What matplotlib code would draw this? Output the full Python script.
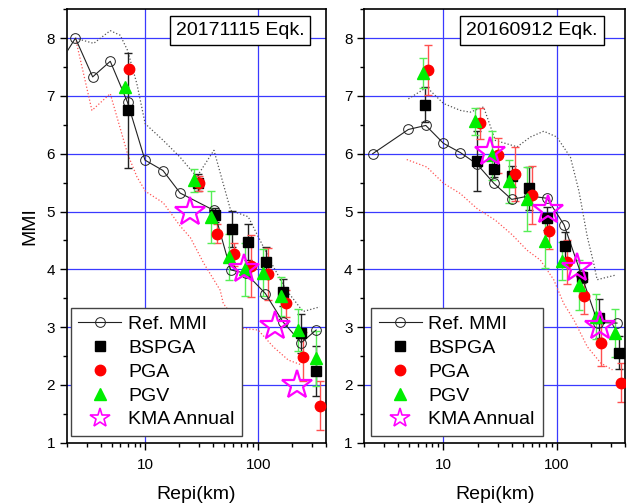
import matplotlib
matplotlib.use("Agg")
import matplotlib.pyplot as plt
from matplotlib.ticker import LogLocator, NullFormatter, MultipleLocator

plt.rcParams["font.family"] = ["Liberation Sans", "DejaVu Sans"]

# ---- 20171115 Eqk. (left) ----
ref_r_a = [1.7, 2.39, 3.40, 4.87, 6.93, 9.9, 14.3, 20.3, 40.5, 57, 78, 116, 166, 241, 327]
ref_m_a = [7.54, 8.0, 7.33, 7.60, 6.89, 5.89, 5.71, 5.32, 5.02, 3.99, 3.93, 3.58, 3.09, 2.73, 2.95]

bspga_r_a = [7.0, 29, 41.7, 58, 81.6, 117, 166, 242, 329]
bspga_m_a = [6.75, 5.50, 4.94, 4.70, 4.48, 4.13, 3.60, 2.89, 2.24]
bspga_e_a = [1.0, 0.15, 0.12, 0.31, 0.31, 0.26, 0.23, 0.33, 0.44]

pga_r_a = [7.2, 30, 42.8, 61.4, 86, 122, 178, 250, 352]
pga_m_a = [7.47, 5.49, 4.62, 4.26, 4.06, 3.92, 3.41, 2.49, 1.64]
pga_e_a = [0.0, 0.13, 0.16, 0.2, 0.54, 0.45, 0.23, 0.43, 0.42]

pgv_r_a = [6.6, 27, 37.9, 55, 76, 111, 158, 226, 324]
pgv_m_a = [7.15, 5.54, 4.90, 4.22, 4.0, 3.94, 3.53, 2.95, 2.46]
pgv_e_a = [0.0, 0.2, 0.45, 0.4, 0.46, 0.41, 0.34, 0.36, 0.48]

kma_r_a = [25, 75, 141, 219]
kma_m_a = [5.0, 4.0, 3.02, 2.0]

upper_r_a = [2.39, 3.47, 4.87, 5.97, 6.93, 8.39, 9.94, 14.4, 20.3, 28.5, 40.5, 57, 81.6, 96.8, 103.5, 136, 178, 250, 352]
upper_m_a = [8.0, 7.91, 8.13, 8.05, 7.79, 7.21, 6.52, 6.23, 5.94, 5.60, 6.06, 5.02, 4.91, 4.62, 4.51, 4.05, 3.64, 3.27, 3.35]
lower_r_a = [2.39, 3.35, 4.87, 6.93, 8.4, 10, 14.4, 20.3, 25, 33, 46, 49, 72, 100, 136, 185, 240]
lower_m_a = [8.0, 6.75, 7.04, 6.0, 5.6, 5.35, 5.15, 4.75, 4.55, 4.1, 3.64, 3.41, 2.98, 2.95, 2.66, 2.43, 2.35]

# ---- 20160912 Eqk. (right) ----
ref_r_b = [2.37, 4.9, 6.98, 10, 14.1, 19.8, 27.8, 40, 57, 82, 116, 165, 230, 340]
ref_m_b = [6.0, 6.42, 6.49, 6.18, 6.02, 5.82, 5.49, 5.21, 5.27, 5.23, 4.77, 3.90, 3.08, 3.07]

bspga_r_b = [6.89, 19.7, 27.7, 40, 57, 82, 118, 166, 235, 354]
bspga_m_b = [6.85, 5.88, 5.74, 5.61, 5.40, 4.88, 4.40, 3.86, 3.15, 2.56]
bspga_e_b = [0.3, 0.52, 0.15, 0.18, 0.37, 0.2, 0.25, 0.1, 0.33, 0.28]

pga_r_b = [7.28, 20.8, 30.3, 42.5, 60.5, 85, 124, 173, 244, 366]
pga_m_b = [7.45, 6.53, 5.97, 5.65, 5.28, 4.66, 4.12, 3.53, 2.73, 2.04]
pga_e_b = [0.44, 0.27, 0.3, 0.46, 0.5, 0.31, 0.38, 0.3, 0.41, 0.34]

pgv_r_b = [6.58, 18.8, 26.8, 38.1, 54.7, 78.3, 112, 157, 224, 324]
pgv_m_b = [7.39, 6.56, 5.97, 5.52, 5.22, 4.49, 4.14, 3.73, 3.18, 2.90]
pgv_e_b = [0.26, 0.23, 0.42, 0.38, 0.55, 0.46, 0.33, 0.43, 0.39, 0.42]

kma_r_b = [25.9, 83, 151, 240]
kma_m_b = [6.03, 5.02, 4.02, 3.02]

upper_r_b = [4.9, 7.13, 10, 14.1, 17.2, 22.6, 28.7, 44.7, 58.5, 76.7, 100, 132, 157, 186, 212, 227, 260, 330]
upper_m_b = [6.95, 7.15, 6.87, 6.75, 6.72, 6.81, 6.23, 6.12, 6.29, 6.39, 6.29, 5.94, 5.35, 4.56, 4.1, 3.82, 3.85, 3.9]
lower_r_b = [4.74, 7.13, 10, 14.1, 19.8, 28.7, 40.3, 54.7, 71.6, 94, 115, 142, 186, 244, 310]
lower_m_b = [5.90, 5.77, 5.49, 5.31, 5.05, 4.85, 4.60, 4.33, 4.16, 3.82, 3.41, 3.12, 2.66, 2.38, 2.26]


def draw_panel(ax, title, title_x, ref, bspga, pga, pgv, kma, upper, lower, leg_x):
    ax.set_xscale("log")
    ax.set_xlim(2, 400)
    ax.set_ylim(1, 8.5)

    # grid
    for g in [10, 100]:
        ax.axvline(g, color="#3a3aff", lw=0.9, zorder=0)
    for g in range(2, 9):
        ax.axhline(g, color="#3a3aff", lw=0.9, zorder=0)

    ax.plot(upper[0], upper[1], ls=":", color="#555555", lw=0.9, zorder=1)
    ax.plot(lower[0], lower[1], ls=":", color="#ff5555", lw=0.9, zorder=1)

    ax.plot(ref[0], ref[1], "-o", color="#222222", lw=0.8, ms=7, mfc="none",
            mec="#222222", mew=0.7, zorder=3, label="Ref. MMI")

    ax.errorbar(bspga[0], bspga[1], yerr=bspga[2], fmt="none", ecolor="#222222",
                elinewidth=1.0, capsize=3, capthick=1.0, zorder=2)
    ax.errorbar(pga[0], pga[1], yerr=pga[2], fmt="none", ecolor="#ff5050",
                elinewidth=1.0, capsize=3, capthick=1.0, zorder=2)
    ax.errorbar(pgv[0], pgv[1], yerr=pgv[2], fmt="none", ecolor="#55ee55",
                elinewidth=1.0, capsize=3, capthick=1.0, zorder=2)

    ax.plot(bspga[0], bspga[1], "s", color="black", ms=6.5, ls="none", zorder=4, label="BSPGA")
    ax.plot(pga[0], pga[1], "o", color="red", ms=7.5, ls="none", zorder=4, label="PGA")
    ax.plot(pgv[0], pgv[1], "^", color="#00ee00", ms=8, ls="none", zorder=4, label="PGV")
    ax.plot(kma[0], kma[1], "*", mfc="none", mec="#ff00ff", mew=1.6, ms=22,
            ls="none", zorder=5, label="KMA Annual")

    ax.set_xticks([10, 100])
    ax.set_xticklabels(["10", "100"])
    ax.xaxis.set_minor_locator(LogLocator(base=10, subs=range(2, 10)))
    ax.xaxis.set_minor_formatter(NullFormatter())
    ax.yaxis.set_major_locator(MultipleLocator(1))
    ax.yaxis.set_minor_locator(MultipleLocator(0.5))
    ax.tick_params(which="major", direction="out", length=5, width=1, labelsize=11,
                   top=False, right=False)
    ax.tick_params(axis="x", which="major", pad=6)
    ax.tick_params(which="minor", direction="out", length=3, width=1,
                   top=False, right=False)
    for s in ax.spines.values():
        s.set_linewidth(1.2)

    ax.text(title_x, 0.951, title, transform=ax.transAxes, ha="center", va="center",
            fontsize=14, zorder=10,
            bbox=dict(boxstyle="square,pad=0.3", fc="white", ec="black", lw=1.0))

    leg = ax.legend(loc="lower left", bbox_to_anchor=(leg_x, 0.015), borderaxespad=0,
                    fontsize=14, frameon=True, fancybox=False, edgecolor="#444444",
                    framealpha=1, handlelength=2.2, handletextpad=0.35,
                    labelspacing=0.32, borderpad=0.4)
    leg.get_frame().set_linewidth(1.0)
    leg.legend_handles[4].set_markersize(15)
    leg.legend_handles[4].set_markeredgewidth(1.2)
    leg.set_zorder(8)
    ax.set_xlabel("Repi(km)", fontsize=14, labelpad=10)


fig = plt.figure(figsize=(6.31, 5.04), dpi=100)
ax1 = fig.add_axes([0.1057, 0.1216, 0.411, 0.860])
ax2 = fig.add_axes([0.5773, 0.1216, 0.4132, 0.860])

draw_panel(ax1, "20171115 Eqk.", 0.669,
           (ref_r_a, ref_m_a), (bspga_r_a, bspga_m_a, bspga_e_a),
           (pga_r_a, pga_m_a, pga_e_a), (pgv_r_a, pgv_m_a, pgv_e_a),
           (kma_r_a, kma_m_a), (upper_r_a, upper_m_a), (lower_r_a, lower_m_a), 0.015)
draw_panel(ax2, "20160912 Eqk.", 0.643,
           (ref_r_b, ref_m_b), (bspga_r_b, bspga_m_b, bspga_e_b),
           (pga_r_b, pga_m_b, pga_e_b), (pgv_r_b, pgv_m_b, pgv_e_b),
           (kma_r_b, kma_m_b), (upper_r_b, upper_m_b), (lower_r_b, lower_m_b), 0.026)

ax1.set_ylabel("MMI", fontsize=14, labelpad=6)

fig.savefig("out.png", dpi=100)
